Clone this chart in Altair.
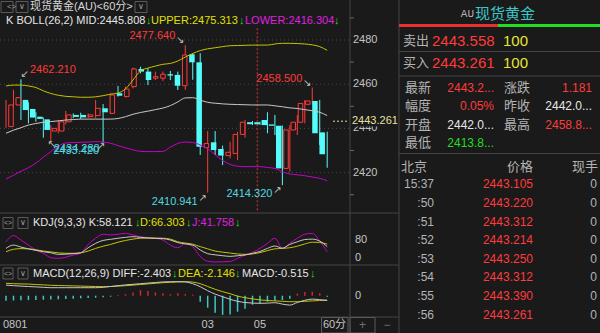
import altair as alt
import pandas as pd

BG = "#1a1a1a"
RED = "#ff3b3b"
CYAN = "#54fcfc"
LINE_Y = "#c4c400"
LINE_M = "#c800c8"
LINE_W = "#c8c8c8"
GREEN = "#22dd22"
SEP = "#454545"
GRIDC = "#4a4a4a"
TXT = "#c4c4c4"
WHITE = "#e6e6e6"
TXT_Y = "#e0e000"
TXT_M = "#e020e0"
LOWC = "#50d8e0"
FONT = "Liberation Sans, Arial, Noto Sans CJK SC, sans-serif"
CJK = "Noto Sans CJK SC, Liberation Sans, sans-serif"
ARW = "DejaVu Sans, sans-serif"

# ---------------- data ----------------
opens = [2440.8, 2450.6, 2452.9, 2448.8, 2445.3, 2444.1, 2438.8, 2438.8, 2443.0, 2446.1,
         2446.1, 2445.3, 2445.8, 2449.1, 2446.8, 2455.9, 2454.4, 2458.9, 2466.9, 2465.7,
         2462.7, 2462.7, 2464.5, 2464.2, 2459.3, 2473.5, 2469.9, 2431.3, 2433.7, 2430.7,
         2427.7, 2428.7, 2437.3, 2442.8, 2442.8, 2443.8, 2441.8, 2441.2, 2421.9, 2439.3,
         2442.8, 2450.9, 2452.4, 2438.2]
closes = [2450.6, 2453.9, 2448.3, 2444.9, 2444.3, 2439.3, 2440.0, 2443.0, 2446.1, 2445.2,
          2445.0, 2446.1, 2449.1, 2447.3, 2455.1, 2454.8, 2457.8, 2466.9, 2465.7, 2461.9,
          2463.4, 2464.5, 2463.9, 2459.3, 2473.2, 2469.9, 2431.7, 2433.2, 2430.2, 2427.7,
          2429.2, 2437.3, 2442.8, 2441.9, 2441.9, 2441.5, 2441.2, 2421.9, 2439.3, 2442.8,
          2451.3, 2452.4, 2437.8, 2428.3]
highs = [2452.9, 2457.4, 2462.21, 2451.8, 2447.3, 2444.9, 2441.5, 2443.8, 2447.9, 2446.8,
         2447.1, 2446.8, 2452.9, 2451.0, 2455.9, 2459.2, 2458.9, 2467.5, 2467.9, 2467.2,
         2465.7, 2465.7, 2466.0, 2465.7, 2477.64, 2474.0, 2474.0, 2438.8, 2438.8, 2432.2,
         2434.0, 2438.5, 2443.8, 2443.3, 2443.0, 2447.3, 2446.1, 2441.3, 2441.5, 2446.1,
         2452.9, 2458.5, 2452.9, 2438.5]
lows = [2440.3, 2449.1, 2443.8, 2442.3, 2443.0, 2435.8, 2434.28, 2437.8, 2441.8, 2444.6,
        2444.3, 2444.6, 2444.6, 2433.42, 2446.5, 2454.4, 2454.0, 2458.1, 2464.9, 2459.6,
        2461.9, 2461.5, 2461.9, 2457.4, 2457.4, 2462.0, 2428.0, 2410.941, 2428.0, 2423.4,
        2426.5, 2425.7, 2435.8, 2441.5, 2441.6, 2437.8, 2437.0, 2414.32, 2420.4, 2437.0,
        2442.3, 2450.6, 2432.5, 2422.2]
boll_upper = [2459.2, 2459.6, 2459.6, 2459.2, 2458.5, 2457.0, 2455.8, 2455.0, 2454.5, 2454.3,
              2454.1, 2454.1, 2454.3, 2454.8, 2455.5, 2456.0, 2457.9, 2461.9, 2466.0, 2467.3,
              2468.2, 2469.0, 2469.4, 2470.5, 2472.3, 2473.9, 2475.2, 2476.0, 2476.5, 2477.0,
              2477.4, 2477.5, 2477.6, 2477.7, 2477.7, 2477.7, 2478.2, 2478.5, 2478.5, 2478.4,
              2478.2, 2477.8, 2477.0, 2475.313]
boll_mid = [2437.8, 2439.2, 2440.3, 2441.5, 2442.2, 2442.8, 2443.1, 2443.4, 2443.8, 2444.0,
            2444.2, 2444.2, 2444.2, 2444.2, 2444.2, 2444.5, 2445.3, 2446.4, 2447.2, 2447.8,
            2448.5, 2449.2, 2450.3, 2452.0, 2453.8, 2453.9, 2452.8, 2451.8, 2451.4, 2451.1,
            2450.9, 2450.8, 2450.7, 2450.6, 2450.6, 2450.6, 2450.2, 2449.8, 2449.3, 2449.0,
            2448.5, 2448.0, 2447.3, 2445.808]
boll_lower = [2417.1, 2418.8, 2420.6, 2422.2, 2424.3, 2427.0, 2429.5, 2432.0, 2433.4, 2433.6,
              2433.7, 2433.8, 2434.0, 2433.8, 2433.3, 2432.2, 2431.2, 2430.3, 2429.6, 2429.5,
              2429.5, 2429.6, 2431.5, 2433.2, 2433.8, 2433.6, 2432.5, 2430.8, 2428.0, 2425.5,
              2423.7, 2422.9, 2422.7, 2422.7, 2422.7, 2422.3, 2421.9, 2420.4, 2419.4, 2419.0,
              2418.6, 2418.0, 2417.4, 2416.304]
kdj_k = [52.4, 63.3, 56.8, 51.0, 45.9, 41.6, 38.0, 32.9, 33.6, 35.1,
         38.0, 54.6, 69.1, 78.6, 82.2, 85.8, 88.7, 90.9, 88.7, 86.5,
         85.1, 84.4, 80.0, 71.3, 67.0, 63.3, 47.4, 35.1, 31.4, 28.5,
         26.4, 28.5, 30.7, 36.5, 42.3, 52.5, 60.4, 53.2, 65.5, 74.2,
         81.5, 82.9, 76.4, 58.121]
kdj_d = [41.6, 49.6, 51.7, 51.0, 48.1, 43.8, 40.9, 38.0, 36.5, 36.5,
         38.0, 43.8, 52.5, 59.7, 65.5, 72.8, 78.6, 82.9, 85.8, 86.5,
         86.5, 85.8, 82.9, 74.2, 69.9, 66.2, 58.3, 51.0, 43.8, 40.1,
         37.2, 34.3, 32.9, 34.3, 38.7, 45.2, 51.0, 52.5, 54.6, 59.7,
         67.0, 72.8, 72.0, 66.303]
kdj_j = [74.2, 94.5, 80.0, 63.3, 47.4, 36.5, 22.0, 19.8, 23.5, 30.7,
         36.5, 65.5, 85.8, 98.9, 96.7, 98.9, 101.8, 96.7, 90.9, 88.0,
         85.8, 80.0, 63.3, 54.6, 69.1, 58.3, 25.6, 10.5, 8.0, 8.5,
         9.5, 19.8, 30.7, 39.4, 52.5, 69.1, 85.8, 52.5, 69.1, 85.8,
         98.9, 101.8, 76.4, 41.758]
macd_diff = [5.3, 5.0, 4.8, 4.6, 4.4, 4.2, 4.0, 4.0, 4.0, 4.0,
             4.0, 4.0, 4.0, 4.2, 4.6, 5.0, 5.4, 5.7, 6.0, 6.3,
             6.6, 6.9, 7.0, 7.0, 6.9, 6.0, 4.5, 2.5, 0.8, -0.5,
             -1.8, -2.8, -3.4, -3.7, -3.8, -3.7, -3.5, -4.2, -4.7, -3.4,
             -2.3, -1.7, -2.0, -2.403]
macd_dea = [6.2, 6.0, 5.9, 5.8, 5.6, 5.4, 5.2, 5.1, 5.0, 4.9,
            4.8, 4.7, 4.6, 4.5, 4.6, 4.8, 5.0, 5.3, 5.6, 5.9,
            6.2, 6.5, 6.7, 6.9, 7.0, 6.8, 6.0, 4.6, 3.2, 2.0,
            1.0, -0.2, -1.0, -1.6, -2.1, -2.4, -2.6, -2.8, -3.0, -3.0,
            -2.8, -2.6, -2.4, -2.146]
macd_hist = [-2.5, -2.4, -2.3, -2.2, -2.1, -2.0, -1.9, -1.8, -1.7, -1.5,
             -1.3, -1.1, -1.0, -0.8, -0.5, 0.3, 0.8, 1.6, 2.8, 2.3,
             1.6, 1.2, 0.8, 1.2, 0.8, 0.5, -3.0, -6.0, -8.5, -9.6,
             -9.4, -8.0, -6.5, -4.5, -3.8, -3.0, -2.5, -2.2, -1.5, 1.0,
             1.8, 2.0, 1.2, -0.515]

price_ticks = [2480, 2460, 2440, 2420]
price_minor = [2490, 2470, 2450, 2430, 2410]
kdj_ticks = [80]
day_marker = [34.65]
date_idx = [28, 35]
date_labels = ["03", "05"]
first_date = "0801"
current_price = 2443.261

tick_times = ["15:37", ":50", ":51", ":52", ":53", ":54", ":55", ":56"]
tick_prices = ["2443.105", "2443.220", "2443.312", "2443.214", "2443.250", "2443.312", "2443.390", "2443.261"]
tick_vols = ["0", "0", "0", "0", "0", "0", "0", "0"]

info_labels_1 = ["最新", "幅度", "开盘", "最低"]
info_values_1 = ["2443.2...", "0.05%", "2442.0...", "2413.8..."]
info_labels_2 = ["涨跌", "昨收", "最高"]
info_values_2 = ["1.181", "2442.0...", "2458.8..."]

# ---------------- frames ----------------
n = len(opens)
idx = list(range(1, n + 1))
candles = pd.DataFrame({"i": idx, "o": opens, "c": closes, "h": highs, "l": lows})
candles["dir"] = ["up" if c > o else "down" for o, c in zip(opens, closes)]
ind = pd.DataFrame({"i": idx, "up": boll_upper, "mid": boll_mid, "lo": boll_lower,
                    "k": kdj_k, "d": kdj_d, "j": kdj_j,
                    "diff": macd_diff, "dea": macd_dea, "hist": macd_hist})
ind["sign"] = ["pos" if v > 0 else "neg" for v in macd_hist]
ind["zero"] = 0.0

XS = alt.Scale(domain=[1, 44], range=[6, 327.2], nice=False, zero=False)
PS = alt.Scale(domain=[2410, 2480], range=[194.7, 40], nice=False, zero=False)
KS = alt.Scale(domain=[0, 80], range=[264.4, 240], nice=False, zero=False)
MS = alt.Scale(domain=[0, 10], range=[295.7, 275.7], nice=False, zero=False)


def X(f="i"):
    return alt.X(f"{f}:Q", scale=XS, axis=None)


def Y(f, s):
    return alt.Y(f"{f}:Q", scale=s, axis=None)


def T(s, x, y, color, size=11, align="left", font=FONT):
    return alt.Chart(pd.DataFrame({"t": [s]})).mark_text(
        align=align, baseline="middle", color=color, fontSize=size, font=font
    ).encode(x=alt.value(x), y=alt.value(y), text="t:N")


def R(x, x2, y, y2, color=SEP, width=1, dash=None):
    kw = dict(color=color, strokeWidth=width)
    if dash:
        kw["strokeDash"] = dash
    return alt.Chart(pd.DataFrame({"a": [0]})).mark_rule(**kw).encode(
        x=alt.value(x), x2=alt.value(x2), y=alt.value(y), y2=alt.value(y2))


def BOX(x, x2, y, y2, color="#5a5a5a"):
    return alt.Chart(pd.DataFrame({"a": [0]})).mark_rect(
        stroke=color, strokeWidth=1, fillOpacity=0).encode(
        x=alt.value(x), x2=alt.value(x2), y=alt.value(y), y2=alt.value(y2))


layers = []

# panel separators
layers += [R(0, 399, 213, 213), R(0, 399, 265, 265), R(0, 399, 317, 317),
           R(350, 350, 0, 333), R(399, 399, 0, 333)]

# price grid
layers.append(alt.Chart(pd.DataFrame({"p": price_ticks})).mark_rule(
    color=GRIDC, strokeDash=[1, 3], strokeWidth=1).encode(
    x=alt.value(0), x2=alt.value(350), y=Y("p", PS)))

# day marker
layers.append(alt.Chart(pd.DataFrame({"i": day_marker, "a": [2485.3], "b": [2402.5]})).mark_rule(
    color="#a02c2c", strokeDash=[2, 2], strokeWidth=1.5).encode(
    x=X(), y=Y("a", PS), y2="b:Q"))

# candles
layers.append(alt.Chart(candles).mark_rule(strokeWidth=1).encode(
    x=X(), y=Y("l", PS), y2="h:Q",
    color=alt.Color("dir:N", scale=alt.Scale(domain=["up", "down"], range=[RED, CYAN]), legend=None)))
layers.append(alt.Chart(candles[candles.dir == "up"]).mark_bar(
    width=4.5, fill=BG, stroke=RED, strokeWidth=1).encode(x=X(), y=Y("o", PS), y2="c:Q"))
layers.append(alt.Chart(candles[candles.dir == "down"]).mark_bar(
    width=5.5, color=CYAN).encode(x=X(), y=Y("o", PS), y2="c:Q"))

# bollinger
for f, col in [("up", LINE_Y), ("mid", LINE_W), ("lo", LINE_M)]:
    layers.append(alt.Chart(ind).mark_line(color=col, strokeWidth=1, interpolate="monotone").encode(
        x=X(), y=Y(f, PS)))

# annotations of extremes
def ann(ii, align, dx, dy, color, arrow, adx, ady):
    df = candles[candles.i.isin(ii)].copy()
    df["lab"] = [f"{v:.3f}" for v in (df.h if color == RED else df.l)]
    fld = "h" if color == RED else "l"
    t = alt.Chart(df).mark_text(align=align, baseline="middle", dx=dx, dy=dy, color=color,
                                fontSize=11, font=FONT).encode(x=X(), y=Y(fld, PS), text="lab:N")
    a = alt.Chart(df).mark_text(align="center", baseline="middle", dx=adx, dy=ady, color="#c8c8c8",
                                fontSize=10, font=ARW, text=arrow).encode(x=X(), y=Y(fld, PS))
    return [t, a]

layers += ann([3], "left", 9, -9, RED, "↙", 4, -5)
layers += ann([25, 42], "right", -10, -9, RED, "↘", -5, -5)
layers += ann([7], "left", 3, 8, LOWC, "↖", 1, 3)
layers += ann([14], "right", -4, 8, LOWC, "↗", -2, 3)
layers += ann([28, 38], "right", -10, 9, LOWC, "↗", -5, 5)

# price axis
layers.append(alt.Chart(pd.DataFrame({"p": price_ticks, "lab": [str(v) for v in price_ticks]})).mark_text(
    align="left", baseline="middle", color=TXT, fontSize=11, font=FONT).encode(
    x=alt.value(353), y=Y("p", PS), text="lab:N"))
layers.append(alt.Chart(pd.DataFrame({"p": price_minor})).mark_rule(color="#6a6a6a").encode(
    x=alt.value(350), x2=alt.value(354), y=Y("p", PS)))
cur = pd.DataFrame({"p": [current_price], "a": [current_price + 2.9], "b": [current_price - 2.4],
                    "lab": [f"{current_price:.3f}"]})
layers.append(alt.Chart(cur).mark_rect(fill=BG).encode(
    x=alt.value(351), x2=alt.value(398), y=Y("a", PS), y2="b:Q"))
layers.append(alt.Chart(cur).mark_rule(color="#e6dc8c", strokeDash=[2, 2]).encode(
    x=alt.value(333), x2=alt.value(348), y=Y("p", PS)))
layers.append(alt.Chart(cur).mark_text(align="left", baseline="middle", color="#e8e0a0",
                                       fontSize=11, font=FONT).encode(
    x=alt.value(352), y=Y("p", PS), text="lab:N"))

# KDJ
for f, col in [("j", LINE_M), ("d", LINE_Y), ("k", LINE_W)]:
    layers.append(alt.Chart(ind).mark_line(color=col, strokeWidth=1, interpolate="monotone").encode(
        x=X(), y=Y(f, KS)))
layers.append(alt.Chart(pd.DataFrame({"v": kdj_ticks, "lab": ["80"]})).mark_text(
    align="left", baseline="middle", color=TXT, fontSize=11, font=FONT).encode(
    x=alt.value(355), y=Y("v", KS), text="lab:N"))
layers.append(alt.Chart(pd.DataFrame({"v": [0], "lab": ["0"]})).mark_text(
    align="left", baseline="middle", color=TXT, fontSize=11, font=FONT, dy=-6.7).encode(
    x=alt.value(355), y=Y("v", KS), text="lab:N"))

# MACD
layers.append(alt.Chart(ind).mark_rule(strokeWidth=1.5).encode(
    x=X(), y=Y("zero", MS), y2="hist:Q",
    color=alt.Color("sign:N", scale=alt.Scale(domain=["pos", "neg"], range=["#d02828", "#3cc8c8"]),
                    legend=None)))
for f, col in [("dea", LINE_Y), ("diff", LINE_W)]:
    layers.append(alt.Chart(ind).mark_line(color=col, strokeWidth=1, interpolate="monotone").encode(
        x=X(), y=Y(f, MS)))
layers.append(alt.Chart(pd.DataFrame({"v": [0], "lab": ["0"]})).mark_text(
    align="left", baseline="middle", color=TXT, fontSize=11, font=FONT).encode(
    x=alt.value(355), y=Y("v", MS), text="lab:N"))

# header row 1
layers += [BOX(1, 13, 1.5, 12.5), T("<>", 7, 7, "#a0a0a0", 8),
           BOX(16, 28, 1.5, 12.5), T("∨", 22, 7, "#a0a0a0", 8, "center", ARW),
           T("现货黄金(AU)<60分>", 30, 7, "#d8d8d8", 11),
           BOX(135, 147, 1.5, 12.5), T("∨", 141, 7, "#a0a0a0", 8, "center", ARW)]
# BOLL header
layers += [T("K BOLL(26,2) MID:2445.808", 6, 21, WHITE),
           T("↓", 146, 21, GREEN),
           T("UPPER:2475.313", 151, 21, TXT_Y),
           T("↓", 239, 21, GREEN),
           T("LOWER:2416.304", 245, 21, TXT_M),
           T("↓", 334, 21, GREEN)]
# KDJ header
layers += [BOX(3, 13, 217.5, 228.5), T("<>", 8, 223, "#a0a0a0", 7, "center"),
           BOX(18, 28, 217.5, 228.5), T("∨", 23, 223, "#a0a0a0", 8, "center", ARW),
           T("KDJ(9,3,3) K:58.121", 33, 223, WHITE),
           T("↓", 135, 223, GREEN),
           T("D:66.303", 140, 223, TXT_Y),
           T("↓", 186, 223, GREEN),
           T("J:41.758", 192, 223, TXT_M),
           T("↓", 235, 223, GREEN)]
# MACD header
layers += [BOX(3, 13, 268, 279), T("<>", 8, 273.5, "#a0a0a0", 7, "center"),
           BOX(18, 28, 268, 279), T("∨", 23, 273.5, "#a0a0a0", 8, "center", ARW),
           T("MACD(12,26,9) DIFF:-2.403", 33, 273.5, WHITE),
           T("↓", 172, 273.5, GREEN),
           T("DEA:-2.146", 178, 273.5, TXT_Y),
           T("↓", 235, 273.5, GREEN),
           T("MACD:-0.515", 242, 273.5, WHITE),
           T("↓", 310, 273.5, GREEN)]

# x axis labels
layers.append(alt.Chart(pd.DataFrame({"i": date_idx, "lab": date_labels})).mark_text(
    align="center", baseline="middle", color=TXT, fontSize=11, font=FONT).encode(
    x=X(), y=alt.value(325), text="lab:N"))
layers.append(alt.Chart(pd.DataFrame({"i": [1], "lab": [first_date]})).mark_text(
    align="left", baseline="middle", color=TXT, fontSize=11, font=FONT, dx=-3).encode(
    x=X(), y=alt.value(325), text="lab:N"))
layers += [BOX(321.5, 348, 317.5, 333), T("60分", 334.5, 325, TXT, 11, "center"),
           BOX(350, 375, 317.5, 333), T("+", 362.5, 325, "#707070", 12, "center"),
           T("−", 387, 325, "#707070", 12, "center")]

# ---------------- right panel ----------------
layers += [T("AU", 474, 14, "#b0b0b0", 11, "right", "Liberation Mono, monospace"),
           T("现货黄金", 475, 14, "#3cc8c8", 15, "left", CJK)]
layers.append(alt.Chart(pd.DataFrame({"a": [0]})).mark_rect(color="#e83030").encode(
    x=alt.value(399), x2=alt.value(498), y=alt.value(24), y2=alt.value(27)))
layers.append(alt.Chart(pd.DataFrame({"a": [0]})).mark_rect(color="#22dd22").encode(
    x=alt.value(498), x2=alt.value(600), y=alt.value(24), y2=alt.value(27)))
layers += [T("卖出", 403, 41, "#b4b4b4", 13, "left", CJK),
           T("2443.558", 432, 41, RED, 15),
           T("100", 503, 41, "#e6e62e", 15),
           R(399, 600, 51.5, 51.5),
           T("买入", 403, 63, "#b4b4b4", 13, "left", CJK),
           T("2443.261", 432, 63, RED, 15),
           T("100", 503, 63, "#e6e62e", 15),
           R(399, 600, 76, 76),
           R(399, 600, 153.5, 153.5)]

IS = alt.Scale(domain=[0, 3], range=[88, 143], nice=False, zero=False)
info1 = pd.DataFrame({"r": [0, 1, 2, 3], "lab": info_labels_1, "val": info_values_1,
                      "col": [RED, RED, WHITE, GREEN]})
info2 = pd.DataFrame({"r": [0, 1, 2], "lab": info_labels_2, "val": info_values_2,
                      "col": [RED, WHITE, RED]})
for df, lx, vx in [(info1, 405, 494), (info2, 504, 592)]:
    layers.append(alt.Chart(df).mark_text(align="left", baseline="middle", color="#b4b4b4",
                                          fontSize=13, font=CJK).encode(
        x=alt.value(lx), y=alt.Y("r:Q", scale=IS, axis=None), text="lab:N"))
    layers.append(alt.Chart(df).mark_text(align="right", baseline="middle", fontSize=12, font=FONT).encode(
        x=alt.value(vx), y=alt.Y("r:Q", scale=IS, axis=None), text="val:N",
        color=alt.Color("col:N", scale=None)))

layers += [T("北京", 401, 166.5, "#b4b4b4", 13, "left", CJK),
           T("价格", 533, 166.5, "#b4b4b4", 13, "right", CJK),
           T("现手", 598, 166.5, "#b4b4b4", 13, "right", CJK)]
TS = alt.Scale(domain=[0, 7], range=[184.3, 314.7], nice=False, zero=False)
ticks = pd.DataFrame({"r": list(range(len(tick_times))), "t": tick_times, "p": tick_prices, "v": tick_vols})
for fld, xx, col in [("t", 434, "#b4b4b4"), ("p", 533, RED), ("v", 597, "#b4b4b4")]:
    layers.append(alt.Chart(ticks).mark_text(align="right", baseline="middle", color=col,
                                             fontSize=12, font=FONT).encode(
        x=alt.value(xx), y=alt.Y("r:Q", scale=TS, axis=None), text=f"{fld}:N"))

chart = alt.layer(*layers).resolve_scale(
    x="independent", y="independent", color="independent"
).properties(
    width=600, height=333, autosize=alt.AutoSizeParams(type="none"), padding=0
).configure(background=BG).configure_view(strokeWidth=0)

chart.save("out.html", embed_options={"renderer": "svg", "actions": False})
